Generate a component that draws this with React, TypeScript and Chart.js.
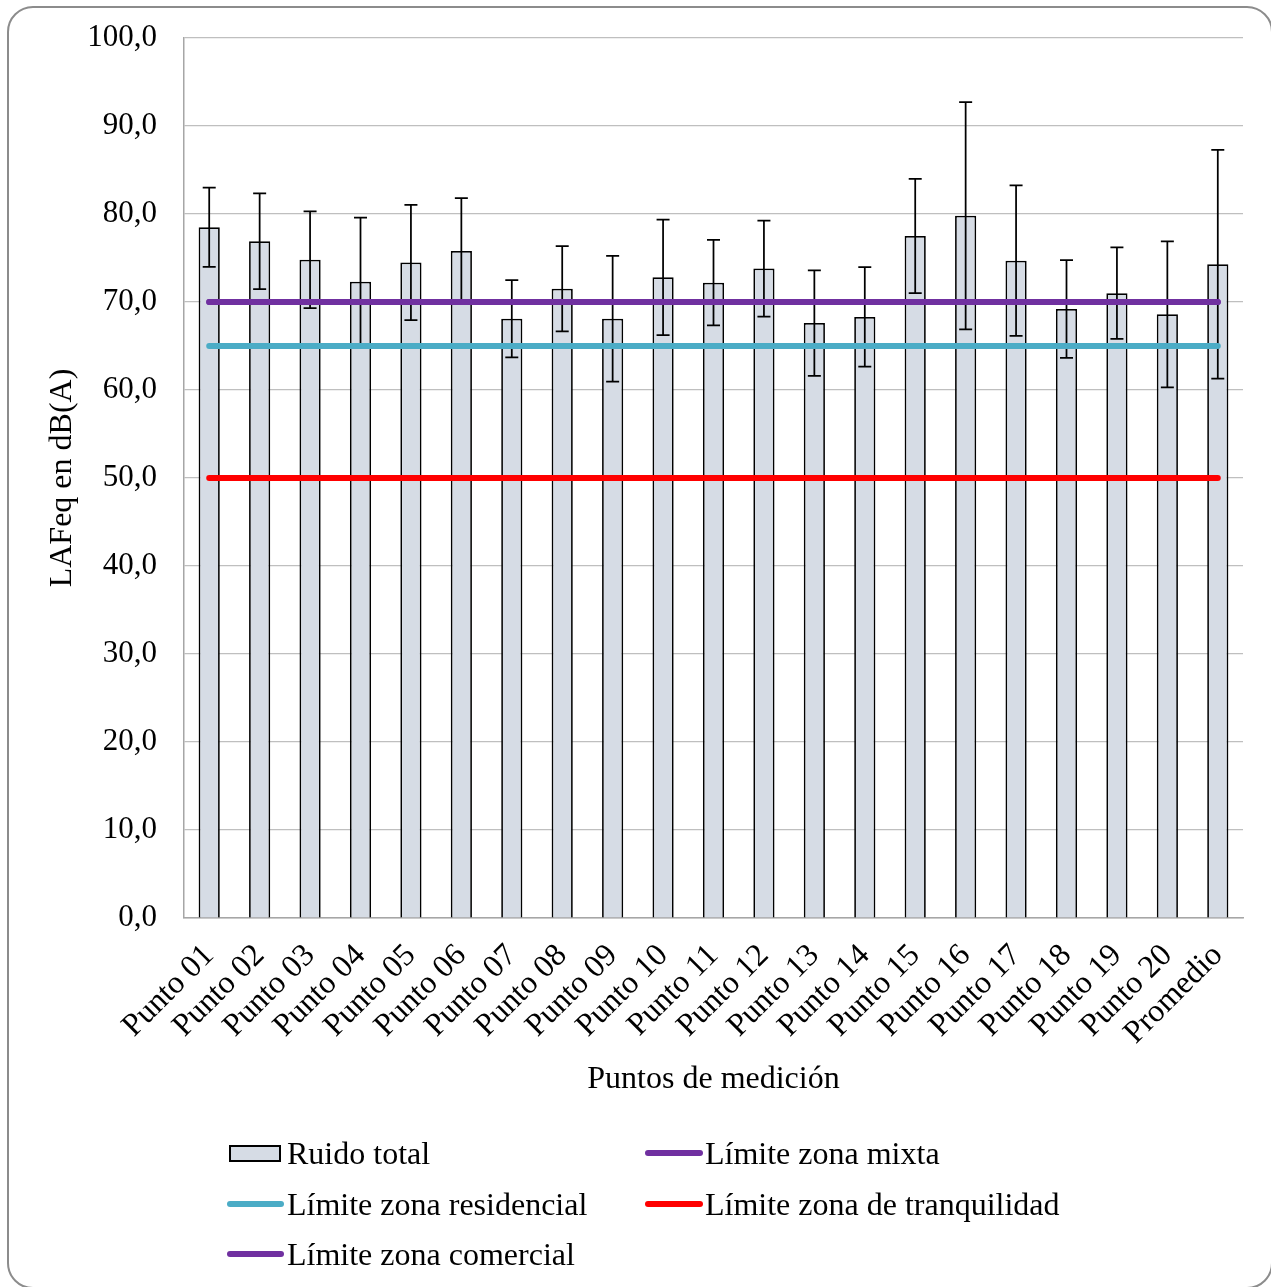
import React, { useEffect, useRef } from 'react';
import { Chart, registerables } from 'chart.js';

Chart.register(...registerables);

const categories = [
  'Punto 01', 'Punto 02', 'Punto 03', 'Punto 04', 'Punto 05', 'Punto 06', 'Punto 07',
  'Punto 08', 'Punto 09', 'Punto 10', 'Punto 11', 'Punto 12', 'Punto 13', 'Punto 14',
  'Punto 15', 'Punto 16', 'Punto 17', 'Punto 18', 'Punto 19', 'Punto 20', 'Promedio',
];

const ruidoTotal = [
  78.5, 76.9, 74.8, 72.3, 74.5, 75.8, 68.1, 71.5, 68.1, 72.8, 72.2,
  73.8, 67.6, 68.3, 77.5, 79.8, 74.7, 69.2, 71.0, 68.6, 74.3,
];

const ruidoError = [
  4.5, 5.45, 5.5, 7.3, 6.55, 6.0, 4.4, 4.85, 7.15, 6.55, 4.85,
  5.45, 6.0, 5.65, 6.5, 12.9, 8.55, 5.55, 5.2, 8.3, 13.0,
];

const limiteMixta = [70, 70, 70, 70, 70, 70, 70, 70, 70, 70, 70, 70, 70, 70, 70, 70, 70, 70, 70, 70, 70];
const limiteResidencial = [65, 65, 65, 65, 65, 65, 65, 65, 65, 65, 65, 65, 65, 65, 65, 65, 65, 65, 65, 65, 65];
const limiteTranquilidad = [50, 50, 50, 50, 50, 50, 50, 50, 50, 50, 50, 50, 50, 50, 50, 50, 50, 50, 50, 50, 50];
const limiteComercial = [70, 70, 70, 70, 70, 70, 70, 70, 70, 70, 70, 70, 70, 70, 70, 70, 70, 70, 70, 70, 70];

const yMin = 0;
const yMax = 100;
const yStep = 10;

const FONT = '"Liberation Serif", "Times New Roman", serif';
const TICK_SIZE = 31;
const TITLE_SIZE = 32;
const BAR_FILL = '#D6DCE5';
const PURPLE = '#7030A0';
const TEAL = '#4BACC6';
const RED = '#FF0000';
const GRID = '#BFBFBF';
const AXIS = '#A6A6A6';

const CANVAS_W = 1262;
const CANVAS_H = 1279;

const legendItems = [
  { label: 'Ruido total', kind: 'box', color: BAR_FILL },
  { label: 'Límite zona mixta', kind: 'line', color: PURPLE },
  { label: 'Límite zona residencial', kind: 'line', color: TEAL },
  { label: 'Límite zona de tranquilidad', kind: 'line', color: RED },
  { label: 'Límite zona comercial', kind: 'line', color: PURPLE },
];

const errorBarPlugin = {
  id: 'errorBars',
  afterDatasetDraw(chart: any, args: any) {
    if (args.index !== 0) return;
    const yScale = chart.scales.y;
    const ctx = chart.ctx;
    ctx.save();
    ctx.strokeStyle = '#000';
    ctx.lineWidth = 1.75;
    args.meta.data.forEach((bar: any, i: number) => {
      const v = ruidoTotal[i];
      const e = ruidoError[i];
      const x = bar.x;
      const yTop = yScale.getPixelForValue(v + e);
      const yBot = yScale.getPixelForValue(v - e);
      ctx.beginPath();
      ctx.moveTo(x, yTop);
      ctx.lineTo(x, yBot);
      ctx.moveTo(x - 6.5, yTop);
      ctx.lineTo(x + 6.5, yTop);
      ctx.moveTo(x - 6.5, yBot);
      ctx.lineTo(x + 6.5, yBot);
      ctx.stroke();
    });
    ctx.restore();
  },
};

function lineDataset(label: string, data: number[], color: string) {
  return {
    type: 'line' as const,
    label,
    data,
    borderColor: color,
    backgroundColor: color,
    borderWidth: 6,
    borderCapStyle: 'round' as const,
    pointRadius: 0,
    pointHoverRadius: 0,
    fill: false,
    tension: 0,
    order: 0,
  };
}

export default function App() {
  const canvasRef = useRef<HTMLCanvasElement | null>(null);

  useEffect(() => {
    if (!canvasRef.current) return;
    const tickFont = { family: FONT, size: TICK_SIZE };
    const titleFont = { family: FONT, size: TITLE_SIZE };
    const chart = new Chart(canvasRef.current, {
      type: 'bar',
      data: {
        labels: categories,
        datasets: [
          {
            type: 'bar',
            label: 'Ruido total',
            data: ruidoTotal,
            backgroundColor: BAR_FILL,
            borderColor: '#000',
            borderWidth: 1.75,
            barPercentage: 0.42,
            categoryPercentage: 1,
            order: 10,
          } as any,
          lineDataset('Límite zona mixta', limiteMixta, PURPLE),
          lineDataset('Límite zona residencial', limiteResidencial, TEAL),
          lineDataset('Límite zona de tranquilidad', limiteTranquilidad, RED),
          lineDataset('Límite zona comercial', limiteComercial, PURPLE),
        ],
      },
      options: {
        responsive: false,
        animation: false,
        events: [],
        layout: {
          padding: { left: 0, top: 30, right: 28, bottom: 179 },
        },
        plugins: {
          legend: { display: false },
          tooltip: { enabled: false },
        },
        scales: {
          x: {
            offset: true,
            grid: { display: false, drawTicks: false },
            border: { display: true, color: AXIS, width: 1.5 },
            ticks: {
              font: { family: FONT, size: 32 },
              color: '#000',
              maxRotation: 45,
              minRotation: 45,
              autoSkip: false,
              padding: 19,
            },
            title: {
              display: true,
              text: 'Puntos de medición',
              font: titleFont,
              color: '#000',
              padding: { top: 0, bottom: 9.4 },
            },
            afterFit: (scale: any) => {
              scale.height = 190;
            },
          },
          y: {
            min: yMin,
            max: yMax,
            grid: { color: GRID, lineWidth: 1.25, drawTicks: false },
            border: { display: true, color: AXIS, width: 1.5 },
            ticks: {
              stepSize: yStep,
              font: tickFont,
              color: '#000',
              padding: 27,
              callback: (v: any) => Number(v).toFixed(1).replace('.', ','),
            },
            title: {
              display: true,
              text: 'LAFeq en dB(A)',
              font: titleFont,
              color: '#000',
              padding: { top: 34, bottom: 0 },
            },
            afterFit: (scale: any) => {
              scale.width = 175;
              scale.paddingTop = 10;
              scale.paddingBottom = 10;
            },
          },
        },
      } as any,
      plugins: [errorBarPlugin],
    });
    return () => chart.destroy();
  }, []);

  const rowY = [1145, 1196, 1246];
  const cols = [
    { boxLeft: 220, lineLeft: 218, lineW: 57, textLeft: 278 },
    { boxLeft: 638, lineLeft: 636, lineW: 58, textLeft: 696 },
  ];

  return (
    <div
      style={{
        position: 'fixed',
        left: 7,
        top: 6,
        width: 1266,
        height: 1283,
        boxSizing: 'border-box',
        border: '2px solid #8C8C8C',
        borderRadius: 26,
        background: '#fff',
        overflow: 'hidden',
      }}
    >
      <canvas
        ref={canvasRef}
        width={CANVAS_W}
        height={CANVAS_H}
        style={{ position: 'absolute', left: 0, top: 0, width: CANVAS_W, height: CANVAS_H }}
      />
      {legendItems.map((item, i) => {
        const col = cols[i % 2];
        const cy = rowY[Math.floor(i / 2)];
        return (
          <React.Fragment key={item.label}>
            {item.kind === 'box' ? (
              <div
                style={{
                  position: 'absolute',
                  left: col.boxLeft,
                  top: cy - 8.5,
                  width: 52,
                  height: 17,
                  boxSizing: 'border-box',
                  background: item.color,
                  border: '2px solid #000',
                }}
              />
            ) : (
              <div
                style={{
                  position: 'absolute',
                  left: col.lineLeft,
                  top: cy - 3,
                  width: col.lineW,
                  height: 6,
                  borderRadius: 3,
                  background: item.color,
                }}
              />
            )}
            <div
              style={{
                position: 'absolute',
                left: col.textLeft,
                top: cy - 20,
                height: 40,
                lineHeight: '40px',
                whiteSpace: 'nowrap',
                fontFamily: FONT,
                fontSize: TITLE_SIZE,
                color: '#000',
              }}
            >
              {item.label}
            </div>
          </React.Fragment>
        );
      })}
    </div>
  );
}
